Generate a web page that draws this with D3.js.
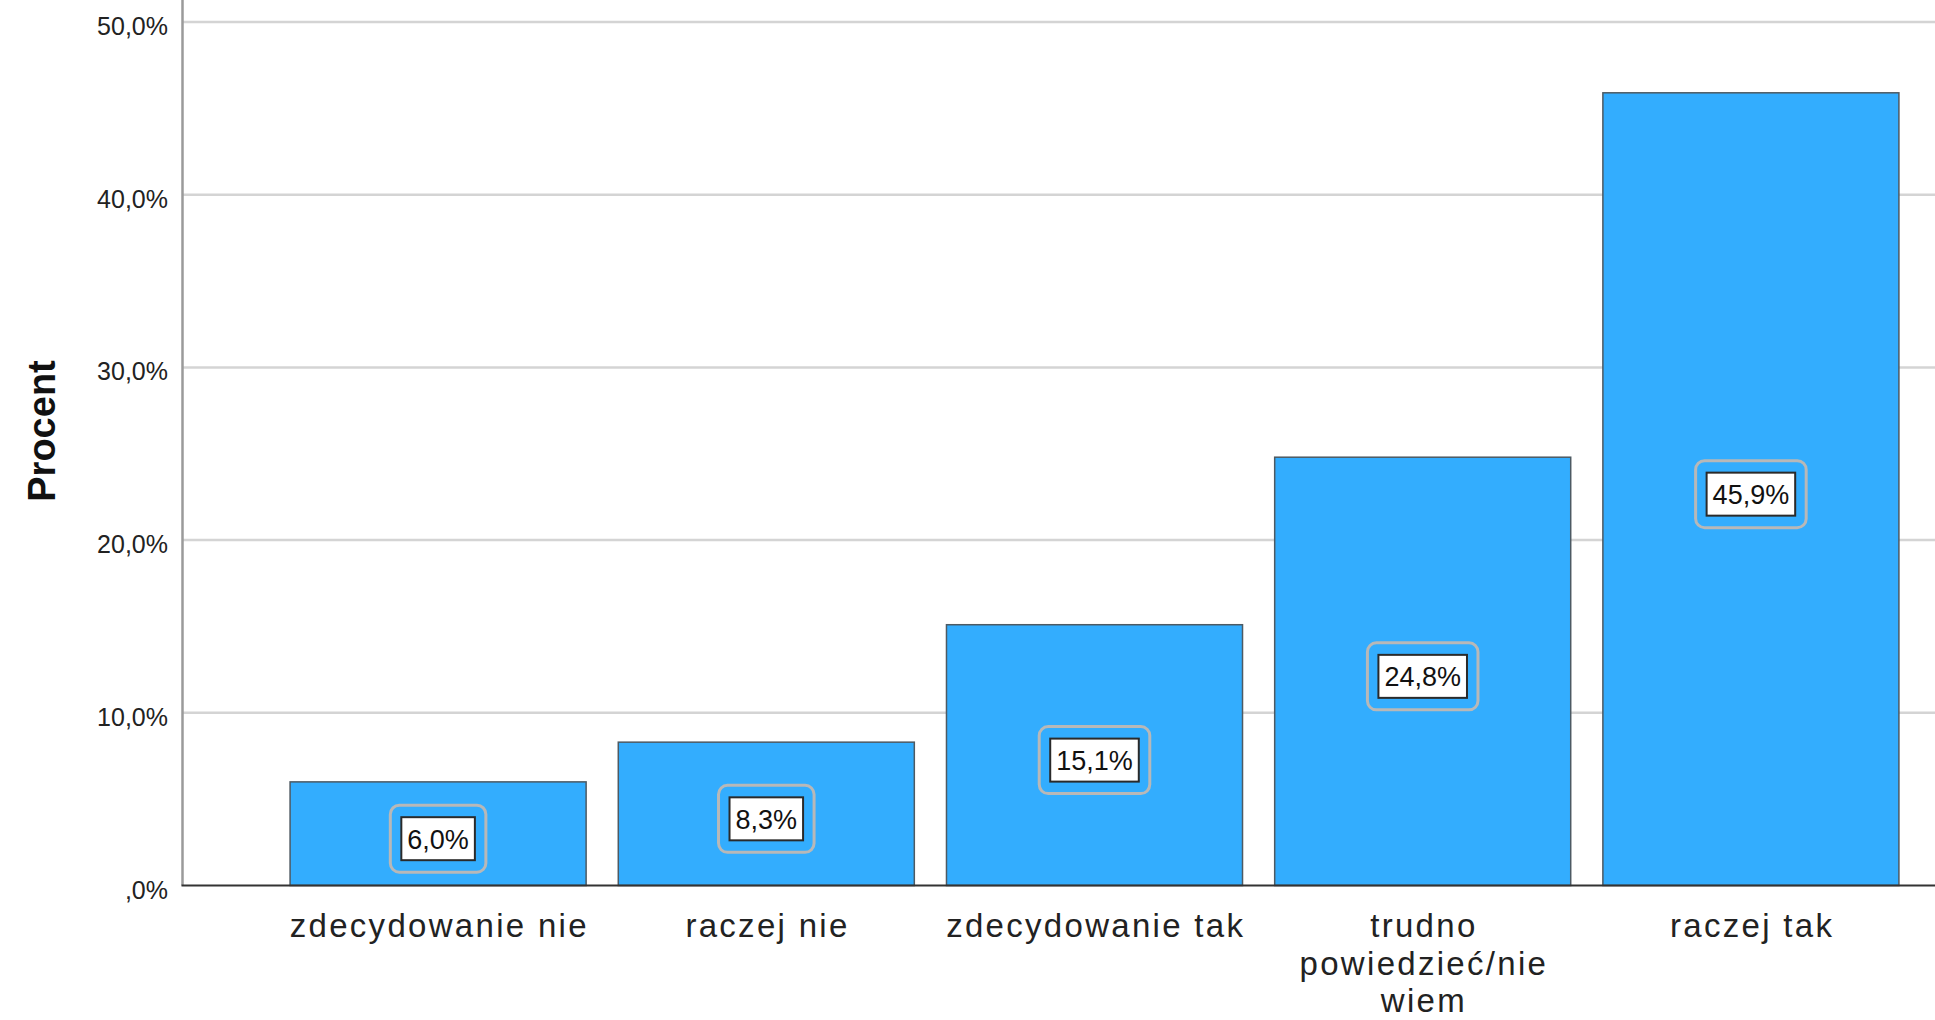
<!DOCTYPE html>
<html><head><meta charset="utf-8">
<script src="https://cdn.jsdelivr.net/npm/d3@7"></script>
<style>
html,body{margin:0;padding:0;background:#fff;overflow:hidden}
svg{display:block}
</style></head>
<body><svg id="chart" width="1935" height="1020"></svg>
<script>
const categories = [["zdecydowanie nie"], ["raczej nie"], ["zdecydowanie tak"], ["trudno", "powiedzieć/nie", "wiem"], ["raczej tak"]];
const values = [6.0, 8.3, 15.1, 24.8, 45.9];
const valueLabels = ["6,0%", "8,3%", "15,1%", "24,8%", "45,9%"];
const yTicks = [0, 10, 20, 30, 40, 50];
const yTickLabels = [",0%", "10,0%", "20,0%", "30,0%", "40,0%", "50,0%"];
const yTitle = "Procent";

const svg = d3.select("#chart");
const axisX = 182.5, baseY = 885.5, topY = 22;
const font = "'Liberation Sans', Arial, sans-serif";

const y = d3.scaleLinear().domain([0, 50]).range([baseY, topY]);
const x = d3.scaleBand().domain(d3.range(values.length)).range([274, 1915]).paddingInner(0.098).paddingOuter(0.049);

// gridlines
svg.append("g").selectAll("line").data(yTicks.filter(t => t > 0)).join("line")
  .attr("x1", axisX).attr("x2", 1935)
  .attr("y1", d => y(d)).attr("y2", d => y(d))
  .attr("stroke", "#d4d4d4").attr("stroke-width", 2.5);

// y axis line
svg.append("line").attr("x1", axisX).attr("x2", axisX).attr("y1", 0).attr("y2", baseY)
  .attr("stroke", "#9a9a9a").attr("stroke-width", 2.5);

// tick labels
svg.append("g").selectAll("text").data(yTicks).join("text")
  .attr("x", 168).attr("y", d => y(d) + 13)
  .attr("text-anchor", "end")
  .attr("font-family", font).attr("font-size", 25).attr("fill", "#222")
  .text((d, i) => yTickLabels[i]);

// bars
svg.append("g").selectAll("rect").data(values).join("rect")
  .attr("x", (d, i) => x(i)).attr("width", x.bandwidth())
  .attr("y", d => y(d)).attr("height", d => baseY - y(d))
  .attr("fill", "#33adfe").attr("stroke", "#4d5a63").attr("stroke-width", 1.5);

// baseline
svg.append("line").attr("x1", axisX - 1).attr("x2", 1935).attr("y1", baseY).attr("y2", baseY)
  .attr("stroke", "#333").attr("stroke-width", 2.2);

// value labels
const lg = svg.append("g");
values.forEach((v, i) => {
  const cx = x(i) + x.bandwidth() / 2;
  const cy = y(v / 2) + 5;
  const g = lg.append("g");
  const t = g.append("text").attr("x", cx).attr("y", cy + 10)
    .attr("text-anchor", "middle").attr("font-family", font).attr("font-size", 27)
    .attr("fill", "#111").text(valueLabels[i]);
  const w = t.node().getComputedTextLength() + 12;
  const h = 43;
  g.insert("rect", "text").attr("x", cx - w / 2 - 11).attr("y", cy - h / 2 - 12)
    .attr("width", w + 22).attr("height", h + 24).attr("rx", 9)
    .attr("fill", "none").attr("stroke", "#b8b8b8").attr("stroke-width", 3);
  g.insert("rect", "text").attr("x", cx - w / 2).attr("y", cy - h / 2)
    .attr("width", w).attr("height", h)
    .attr("fill", "#fff").attr("stroke", "#2a2a2a").attr("stroke-width", 2);
});

// category labels
const cg = svg.append("g");
categories.forEach((lines, i) => {
  const cx = x(i) + x.bandwidth() / 2;
  const t = cg.append("text").attr("text-anchor", "middle")
    .attr("font-family", font).attr("font-size", 33).attr("fill", "#222")
    .attr("letter-spacing", "2.3px");
  lines.forEach((ln, j) => {
    t.append("tspan").attr("x", cx + 1.2).attr("y", 937 + j * 37.5).text(ln);
  });
});

// y title
svg.append("text")
  .attr("transform", "translate(55,431) rotate(-90)")
  .attr("text-anchor", "middle")
  .attr("font-family", font).attr("font-size", 38).attr("font-weight", "bold").attr("fill", "#111")
  .text(yTitle);
</script></body></html>
